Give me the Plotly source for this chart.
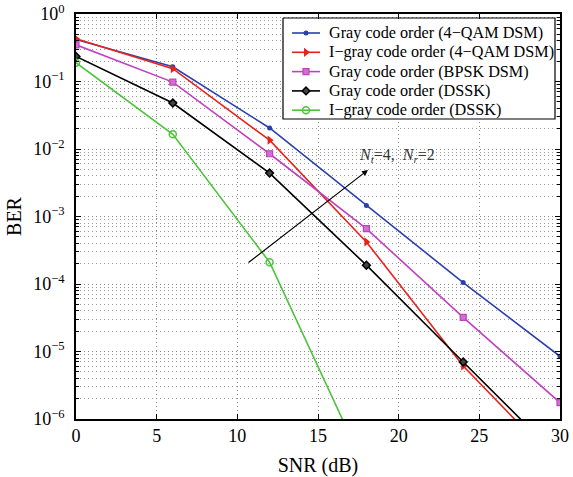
import plotly.graph_objects as go

# SNR sample points (dB)
snr = [0, 6, 12, 18, 24, 30]

# BER curves
ber_gray_qam = [0.42, 0.165, 0.0205, 1.45e-3, 1.05e-4, 8.5e-6]
ber_igray_qam = [0.43, 0.155, 0.0135, 4.2e-4, 6.1e-6, 2.0e-7]
ber_gray_bpsk = [0.35, 0.098, 8.5e-3, 6.6e-4, 3.2e-5, 1.75e-6]
ber_gray_dssk = [0.235, 0.048, 4.4e-3, 1.9e-4, 7.0e-6, 2.6e-7]
ber_igray_dssk = [0.19, 0.0165, 2.1e-4, 1.7e-7]
snr_igray_dssk = [0, 6, 12, 18]

series_names = [
    "Gray code order (4\u2212QAM DSM)",
    "I\u2212gray code order (4\u2212QAM DSM)",
    "Gray code order (BPSK DSM)",
    "Gray code order (DSSK)",
    "I\u2212gray code order (DSSK)",
]

x_ticks = [0, 5, 10, 15, 20, 25, 30]
y_exponents = [0, -1, -2, -3, -4, -5, -6]

FONT = "'Liberation Serif', 'Times New Roman', serif"
W, H = 573, 477
ML, MR, MT, MB = 76, 13, 14, 58

fig = go.Figure()

styles = [
    (snr, ber_gray_qam, "#2a3fb0", dict(symbol="circle", size=5, color="#2a3fb0")),
    (snr, ber_igray_qam, "#e8221b", dict(symbol="triangle-right", size=8, color="#e8221b")),
    (snr, ber_gray_bpsk, "#c040c0", dict(symbol="square", size=6, color="#d070d0",
                                         line=dict(color="#c040c0", width=1.2))),
    (snr, ber_gray_dssk, "#000000", dict(symbol="diamond", size=6, color="#444444",
                                         line=dict(color="#000000", width=1.5))),
    (snr_igray_dssk, ber_igray_dssk, "#4cc43c", dict(symbol="circle-open", size=7, color="#4cc43c",
                                                      line=dict(width=1.5))),
]

for name, (xs, ys, col, mk) in zip(series_names, styles):
    fig.add_trace(go.Scatter(
        x=xs, y=ys, name=name, mode="lines+markers",
        line=dict(color=col, width=1.6), marker=mk, cliponaxis=True,
        showlegend=False,
    ))

# ---- boxed legend drawn on a pixel-unit overlay axis pair ----
LEG_LEFT, LEG_RIGHT, LEG_TOP, LEG_BOTTOM = 283, 555, 18, 119
ROW0, ROW_STEP = 33, 19.3
KEY_X0, KEY_X1, TEXT_X = 292, 320, 327

fig.add_trace(go.Scatter(
    x=[LEG_LEFT, LEG_RIGHT, LEG_RIGHT, LEG_LEFT, LEG_LEFT],
    y=[LEG_TOP, LEG_TOP, LEG_BOTTOM, LEG_BOTTOM, LEG_TOP],
    mode="lines", fill="toself", fillcolor="white",
    line=dict(color="black", width=1.2), hoverinfo="skip",
    xaxis="x2", yaxis="y2", showlegend=False,
))
for i, (name, (_, _, col, mk)) in enumerate(zip(series_names, styles)):
    ry = ROW0 + i * ROW_STEP
    fig.add_trace(go.Scatter(
        x=[KEY_X0, KEY_X1], y=[ry, ry], mode="lines",
        line=dict(color=col, width=1.6), hoverinfo="skip",
        xaxis="x2", yaxis="y2", showlegend=False,
    ))
    fig.add_trace(go.Scatter(
        x=[(KEY_X0 + KEY_X1) / 2], y=[ry], mode="markers", marker=mk,
        hoverinfo="skip", xaxis="x2", yaxis="y2", showlegend=False,
    ))
    fig.add_annotation(
        x=TEXT_X, y=ry, xref="x2", yref="y2", xanchor="left", yanchor="middle",
        text=name, showarrow=False, font=dict(family=FONT, size=16.2, color="black"),
    )

# minor log gridlines between decades
minor_vals = [m * 10.0 ** e for e in range(-6, 0) for m in range(2, 10)]
GRID_DASH = "1px,3px"

fig.update_layout(
    width=W, height=H,
    margin=dict(l=ML, r=MR, t=MT, b=MB, autoexpand=False),
    paper_bgcolor="white", plot_bgcolor="white",
    font=dict(family=FONT, size=18, color="black"),
    showlegend=False,
    xaxis=dict(
        range=[0, 30], tickvals=x_ticks, ticktext=[str(v) for v in x_ticks],
        showline=True, linecolor="black", linewidth=1.5, mirror="ticks",
        ticks="inside", ticklen=5, tickcolor="black",
        showgrid=True, gridcolor="#8a8a8a", griddash=GRID_DASH, gridwidth=1,
        zeroline=False, automargin=False,
        title=dict(text="SNR (dB)", font=dict(size=20), standoff=14),
        tickfont=dict(size=18),
    ),
    yaxis=dict(
        type="log", range=[-6, 0],
        tickvals=[10.0 ** e for e in y_exponents],
        ticktext=["10<sup>%s</sup>" % (str(e).replace("-", "\u2212")) for e in y_exponents],
        showline=True, linecolor="black", linewidth=1.5, mirror="ticks",
        ticks="inside", ticklen=5, tickcolor="black", ticklabelstandoff=6,
        showgrid=True, gridcolor="#8a8a8a", griddash=GRID_DASH, gridwidth=1,
        minor=dict(tickvals=minor_vals, ticks="inside", ticklen=3, tickcolor="black",
                   showgrid=True, gridcolor="#9a9a9a", griddash=GRID_DASH, gridwidth=1),
        zeroline=False, automargin=False,
        title=dict(text="BER", font=dict(size=20), standoff=6),
        tickfont=dict(size=18),
    ),
    xaxis2=dict(overlaying="x", anchor="y2", range=[ML, W - MR], visible=False,
                fixedrange=True, automargin=False),
    yaxis2=dict(overlaying="y", anchor="x2", range=[H - MB, MT], visible=False,
                fixedrange=True, automargin=False),
)

# arrow showing the trend for Nt=4, Nr=2
fig.add_annotation(
    x=18.1, y=-2.31, ax=10.6, ay=-3.70,
    xref="x", yref="y", axref="x", ayref="y",
    showarrow=True, arrowhead=2, arrowsize=1, arrowwidth=1.2, arrowcolor="black",
    text="",
)
fig.add_annotation(
    x=17.4, y=-2.1, xref="x", yref="y", xanchor="left", yanchor="middle",
    showarrow=False,
    text="<i>N</i><sub><i>t</i></sub>=4,  <i>N</i><sub><i>r</i></sub>=2",
    font=dict(family=FONT, size=16, color="#333333"),
)

fig.write_html("out.html")
